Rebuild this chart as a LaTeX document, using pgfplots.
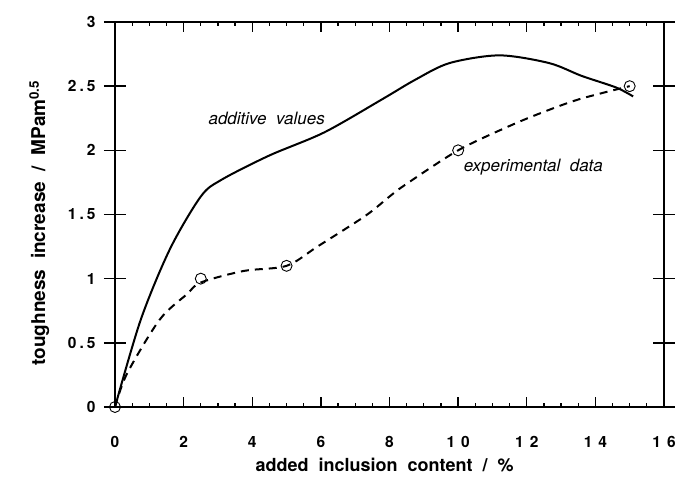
\documentclass[border=0pt]{standalone}
\usepackage{fontspec}
\setmainfont{TeX Gyre Heros}
\usepackage{pgfplots}
\pgfplotsset{compat=1.18}
\newcommand{\gx}{\hspace{6pt}}
\newcommand{\gy}{\hspace{3pt}}
\begin{document}
\begin{tikzpicture}
\begin{axis}[
  scale only axis,
  width=549pt, height=385pt,
  xmin=0, xmax=16, ymin=0, ymax=3,
  xtick={0,2,...,16},
  xticklabels={0,2,4,6,8,1\gx 0,1\gx 2,1\gx 4,1\gx 6},
  ytick={0,0.5,1,1.5,2,2.5,3},
  yticklabels={0,0\gy.\gy 5,1,1\gy.\gy 5,2,2\gy.\gy 5,3},
  axis line style={line width=1.8pt},
  major tick length=0pt,
  minor tick length=0pt,
  /pgf/number format/assume math mode=true,
  ticklabel style={font=\fontsize{15.5}{17}\selectfont\bfseries},
  xticklabel style={yshift=-26pt},
  yticklabel style={xshift=-16pt},
  xlabel={added\ \ inclusion\ \ content\ \ /\ \ \%},
  ylabel={toughness\ \ increase\ \ /\ \ MPam\textsuperscript{0.5}},
  every axis x label/.style={at={(axis description cs:0.491,-0.168)}, anchor=base, font=\fontsize{18}{20}\selectfont\bfseries},
  every axis y label/.style={at={(axis description cs:-0.138,0.478)}, rotate=90, anchor=center, font=\fontsize{19}{21}\selectfont\bfseries},
  clip=false,
]
\addplot[black, line width=2pt, smooth, tension=0.5] coordinates {
 (0,0) (0.75,0.68) (1.6,1.23) (2.5,1.64) (3.1,1.77) (4.5,1.96) (6.1,2.14)
 (7.8,2.40) (8.75,2.55) (9.75,2.68) (11.2,2.74) (12.65,2.68) (13.6,2.58)
 (14.6,2.49) (15.1,2.42)};
\addplot[black, line width=2pt, smooth, tension=0.5, dash pattern=on 8pt off 6pt] coordinates {
 (0,0) (0.35,0.26) (1.3,0.68) (2.1,0.88) (2.5,0.97) (3.75,1.06) (5,1.10)
 (5.9,1.25) (7.3,1.49) (8,1.64) (8.45,1.73) (10,2.0) (11.5,2.19) (12.5,2.30)
 (13.55,2.40) (15,2.5)};
\addplot[only marks, mark=o, mark size=5.5pt, mark options={line width=0.9pt, fill=white}] coordinates {
 (0,0) (2.5,1) (5,1.1) (10,2) (15,2.5)};
\node[font=\fontsize{17}{19}\selectfont\itshape] at (axis cs:4.42,2.25) {additive\ \ values};
\node[font=\fontsize{17}{19}\selectfont\itshape] at (axis cs:12.19,1.87) {experimental\ \ data};
\end{axis}
% tick marks drawn along the axis box
\foreach \i in {0,...,8} {
  \draw[black, line width=1.4pt] ([xshift=\i*68.625pt]current axis.south west) -- ++(0,10pt);
  \draw[black, line width=1.4pt] ([xshift=\i*68.625pt]current axis.north west) -- ++(0,-10pt);
}
\foreach \i in {1,...,31} {
  \draw[black, line width=1.2pt] ([xshift=\i*17.15625pt]current axis.south west) -- ++(0,4pt);
  \draw[black, line width=1.2pt] ([xshift=\i*17.15625pt]current axis.north west) -- ++(0,-4pt);
}
\foreach \i in {0,...,6} {
  \draw[black, line width=1.4pt] ([yshift=\i*64.16667pt, xshift=-11pt]current axis.south west) -- ++(22pt,0);
  \draw[black, line width=1.4pt] ([yshift=\i*64.16667pt, xshift=-11pt]current axis.south east) -- ++(22pt,0);
}
\path (current axis.south west) ++(-115pt,-71pt) rectangle ++(693pt,478pt);
\end{tikzpicture}
\end{document}
